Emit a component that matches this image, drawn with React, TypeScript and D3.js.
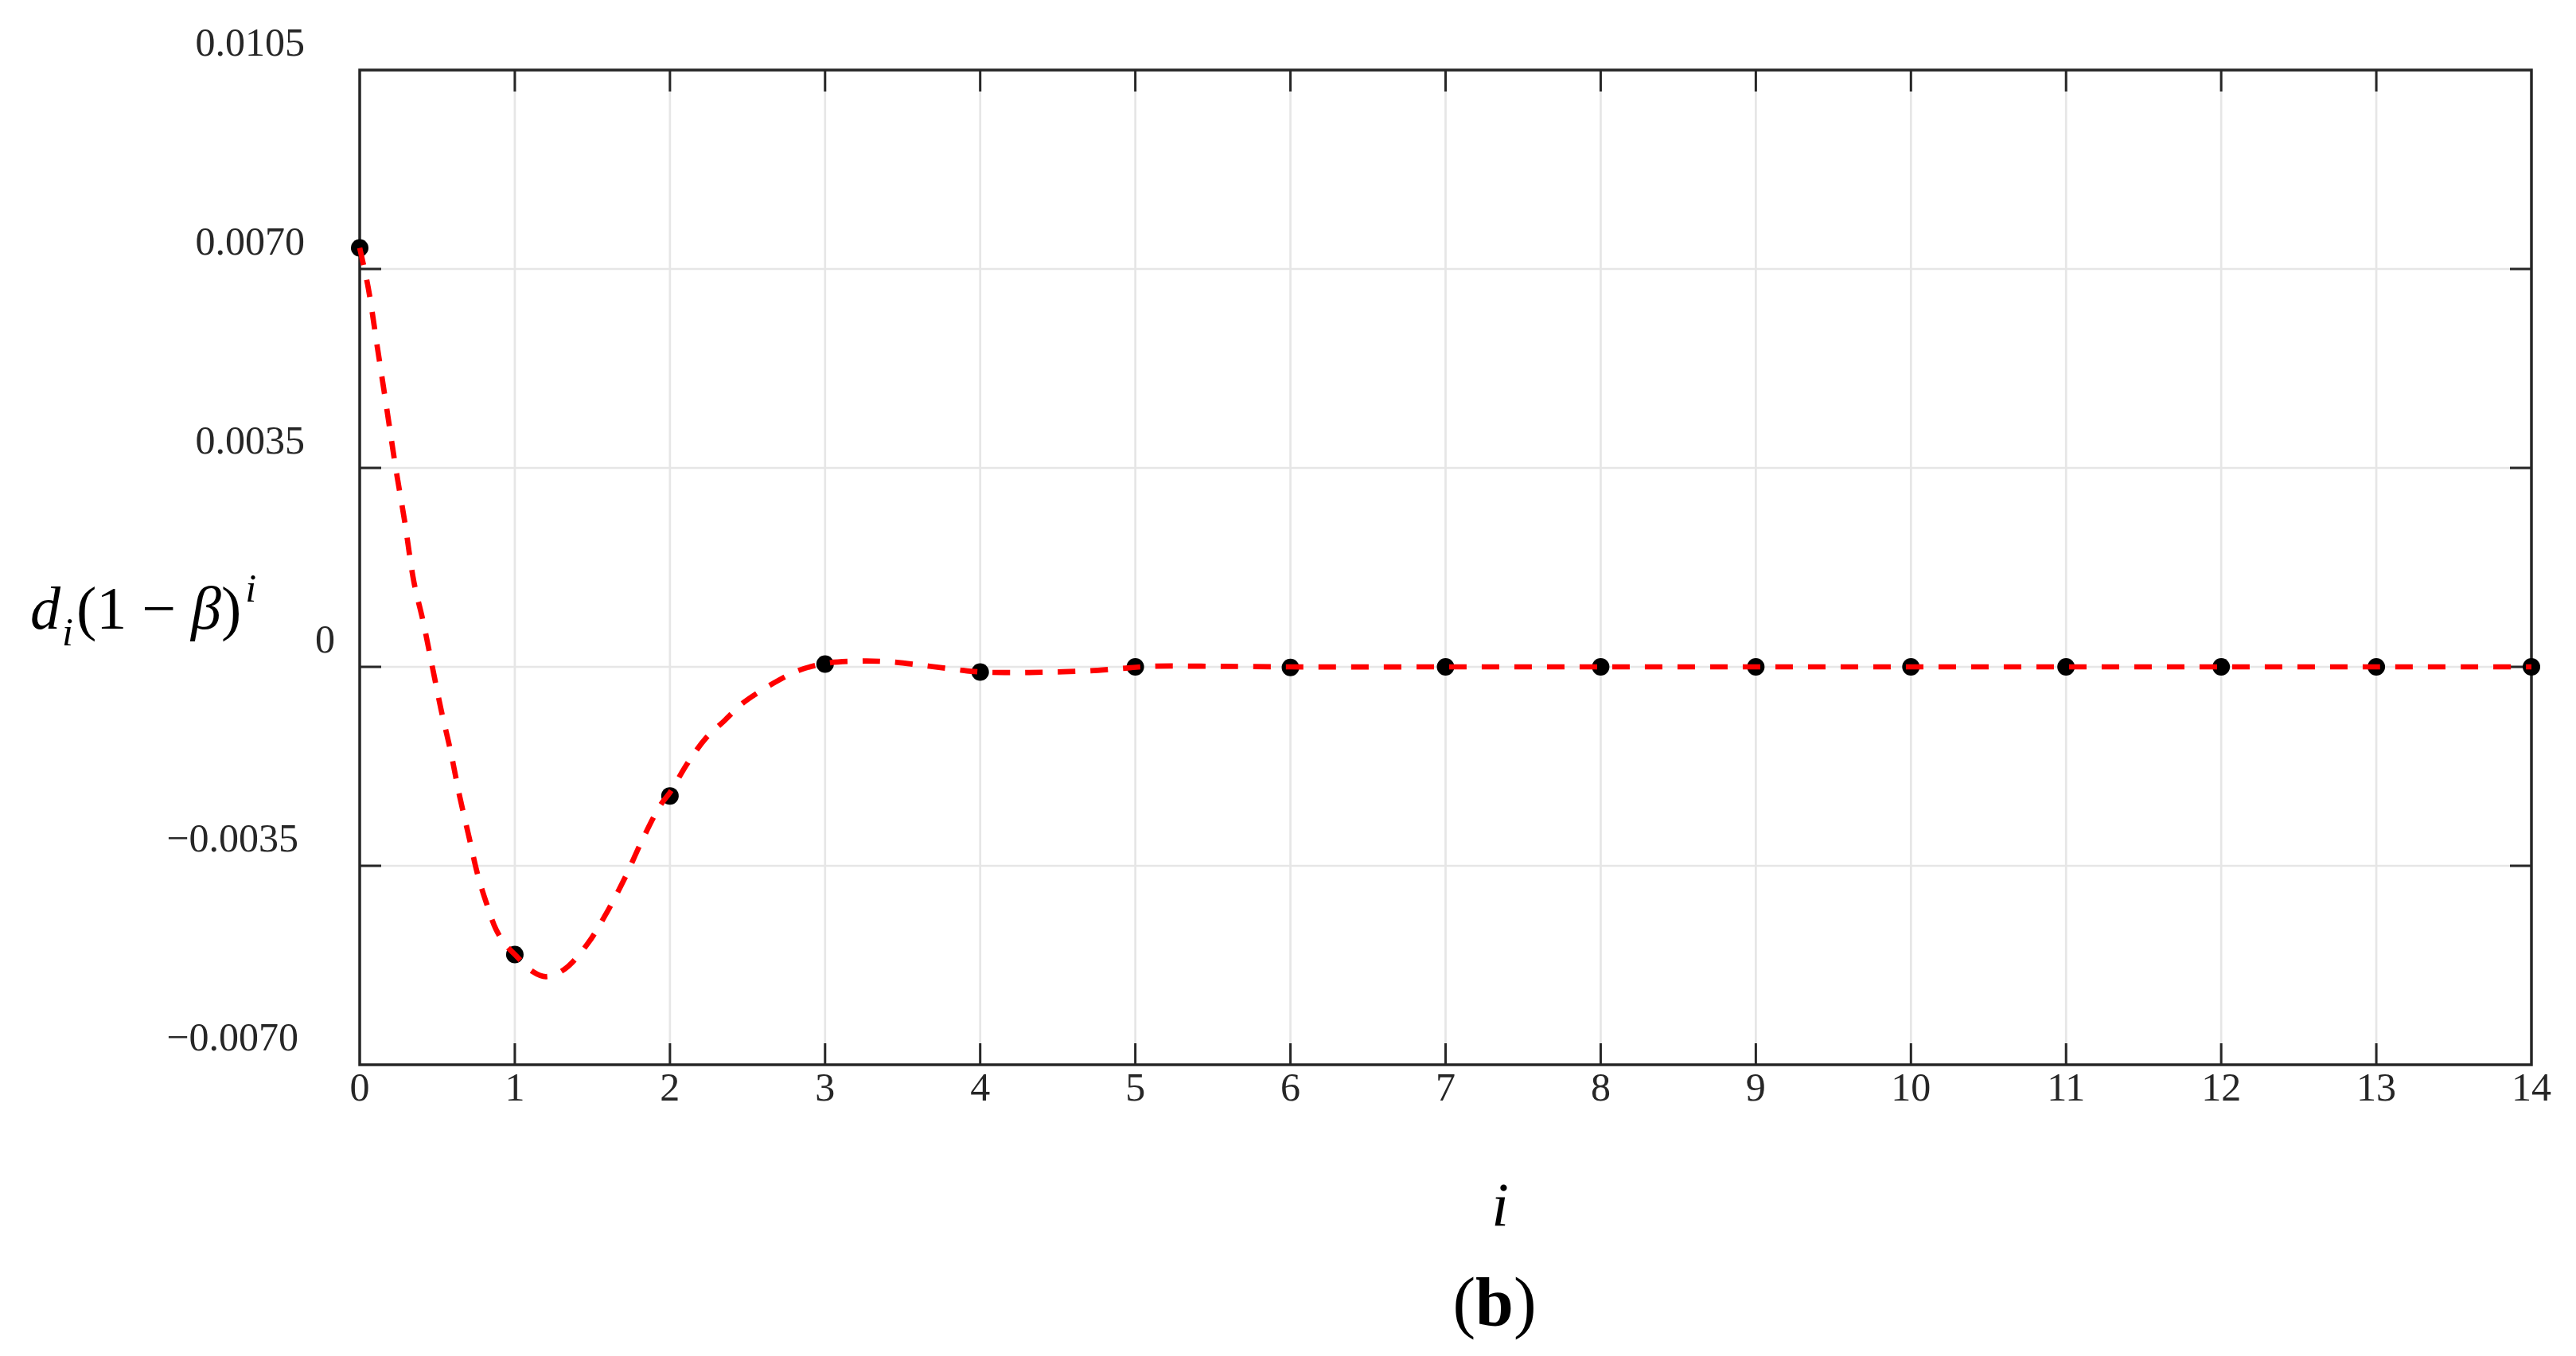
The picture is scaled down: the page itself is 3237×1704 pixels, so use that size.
import * as d3 from "d3";

const W = 3237, H = 1704;
const PLOT = { left: 452, right: 3181, top: 88, bottom: 1338 };

// sampled values d_i(1-β)^i at integer i
const pointI = [0, 1, 2, 3, 4, 5, 6, 7, 8, 9, 10, 11, 12, 13, 14];
const pointV = [0.00737, -0.00506, -0.00227, 0.00005, -0.00009, 0.0, -0.00001, 0.0, 0.0, 0.0, 0.0, 0.0, 0.0, 0.0, 0.0];

// dashed fitted curve
const curveI = [0, 0.055, 0.114, 0.173, 0.231, 0.29, 0.349, 0.408, 0.467, 0.526, 0.585, 0.643, 0.702, 0.761, 0.82, 0.879, 0.938, 1.0, 1.115, 1.2, 1.32, 1.467, 1.585, 1.703, 1.821, 1.939, 2.0, 2.115, 2.233, 2.35, 2.469, 2.587, 2.705, 2.822, 3.0, 3.205, 3.41, 3.646, 3.853, 4.0, 4.235, 4.47, 4.7, 4.9, 5.1, 5.5, 6, 7, 8, 9, 10, 11, 12, 13, 14];
const curveV = [0.00737, 0.00667, 0.00562, 0.00457, 0.00352, 0.00256, 0.0015, 0.00081, 0.00002, -0.00077, -0.00147, -0.00226, -0.00296, -0.00366, -0.00418, -0.00462, -0.00488, -0.00506, -0.00536, -0.00545, -0.00532, -0.00488, -0.00436, -0.00375, -0.00305, -0.00243, -0.00221, -0.00169, -0.00125, -0.00095, -0.00064, -0.00042, -0.00023, -0.00007, 0.00006, 0.0001, 0.00009, 0.00002, -0.00005, -0.00009, -0.0001, -0.00009, -0.00007, -0.00003, 0.00001, 0.00001, 0.0, 0.0, 0.0, 0.0, 0.0, 0.0, 0.0, 0.0, 0.0];

const xTicks = [0, 1, 2, 3, 4, 5, 6, 7, 8, 9, 10, 11, 12, 13, 14];
const xTickLabels = ["0", "1", "2", "3", "4", "5", "6", "7", "8", "9", "10", "11", "12", "13", "14"];
const yTicks = [-0.007, -0.0035, 0, 0.0035, 0.007, 0.0105];
const yTickLabels = ["−0.0070", "−0.0035", "0", "0.0035", "0.0070", "0.0105"];

const FONT = "'Liberation Serif', 'DejaVu Serif', serif";
const INK = "#262626";
const GRID = "#e6e6e6";

export default function App() {
  const x = d3.scaleLinear([0, 14], [PLOT.left, PLOT.right]);
  const y = d3.scaleLinear([-0.007, 0.0105], [PLOT.bottom, PLOT.top]);

  const line = d3
    .line<number>()
    .x((_, k) => x(curveI[k]))
    .y((v) => y(v))
    .curve(d3.curveCatmullRom.alpha(0.5));

  const innerX = xTicks.filter((t) => t > 0 && t < 14);
  const innerY = yTicks.filter((t) => t > -0.007 && t < 0.0105);
  const TICK = 27;

  return (
    <svg width={W} height={H} style={{ position: "absolute", left: 0, top: 0, display: "block", background: "#fff" }}>
      {/* grid */}
      {innerX.map((t) => (
        <line key={`gx-${t}`} x1={x(t)} x2={x(t)} y1={PLOT.top} y2={PLOT.bottom} stroke={GRID} strokeWidth={2.7} />
      ))}
      {innerY.map((t) => (
        <line key={`gy-${t}`} x1={PLOT.left} x2={PLOT.right} y1={y(t)} y2={y(t)} stroke={GRID} strokeWidth={2.7} />
      ))}

      {/* box */}
      <rect x={PLOT.left} y={PLOT.top} width={PLOT.right - PLOT.left} height={PLOT.bottom - PLOT.top}
        fill="none" stroke={INK} strokeWidth={3.5} />

      {/* ticks, pointing inward on all four sides */}
      {innerX.map((t) => (
        <g key={`tx-${t}`}>
          <line x1={x(t)} x2={x(t)} y1={PLOT.bottom} y2={PLOT.bottom - TICK} stroke={INK} strokeWidth={3} />
          <line x1={x(t)} x2={x(t)} y1={PLOT.top} y2={PLOT.top + TICK} stroke={INK} strokeWidth={3} />
        </g>
      ))}
      {innerY.map((t) => (
        <g key={`ty-${t}`}>
          <line x1={PLOT.left} x2={PLOT.left + TICK} y1={y(t)} y2={y(t)} stroke={INK} strokeWidth={3} />
          <line x1={PLOT.right} x2={PLOT.right - TICK} y1={y(t)} y2={y(t)} stroke={INK} strokeWidth={3} />
        </g>
      ))}

      {/* tick labels */}
      {xTicks.map((t, k) => (
        <text key={`lx-${t}`} x={x(t)} y={PLOT.bottom + 45} textAnchor="middle"
          fontFamily={FONT} fontSize={50} fill={INK}>
          {xTickLabels[k]}
        </text>
      ))}
      {yTicks.map((t, k) => (
        <text key={`ly-${t}`} x={PLOT.left - (t === 0 ? 31 : t < 0 ? 77 : 69)} y={y(t) - 18}
          textAnchor="end" fontFamily={FONT} fontSize={50} fill={INK}>
          {yTickLabels[k]}
        </text>
      ))}

      {/* markers */}
      {pointI.map((i, k) => (
        <circle key={`p-${i}`} cx={x(i)} cy={y(pointV[k])} r={11} fill="#000" />
      ))}

      {/* dashed curve */}
      <path d={line(curveV) ?? ""} fill="none" stroke="#ff0000" strokeWidth={6.7} strokeDasharray="22,19" />

      {/* axis titles */}
      <text x={1885} y={1540} textAnchor="middle" fontFamily={FONT} fontSize={78} fontStyle="italic" fill="#000">i</text>
      <text x={1878} y={1665} textAnchor="middle" fontFamily={FONT} fontSize={86} fill="#000">
        (<tspan fontWeight="bold">b</tspan>)
      </text>
      <text x={38} y={790} fontFamily={FONT} fontSize={76} fill="#000">
        <tspan fontStyle="italic">d</tspan>
        <tspan fontStyle="italic" fontSize={50} dx={2} dy={21}>i</tspan>
        <tspan dx={4} dy={-21}>(1 − </tspan>
        <tspan fontStyle="italic">β</tspan>
        <tspan>)</tspan>
        <tspan fontStyle="italic" fontSize={50} dx={5} dy={-34}>i</tspan>
      </text>
    </svg>
  );
}
